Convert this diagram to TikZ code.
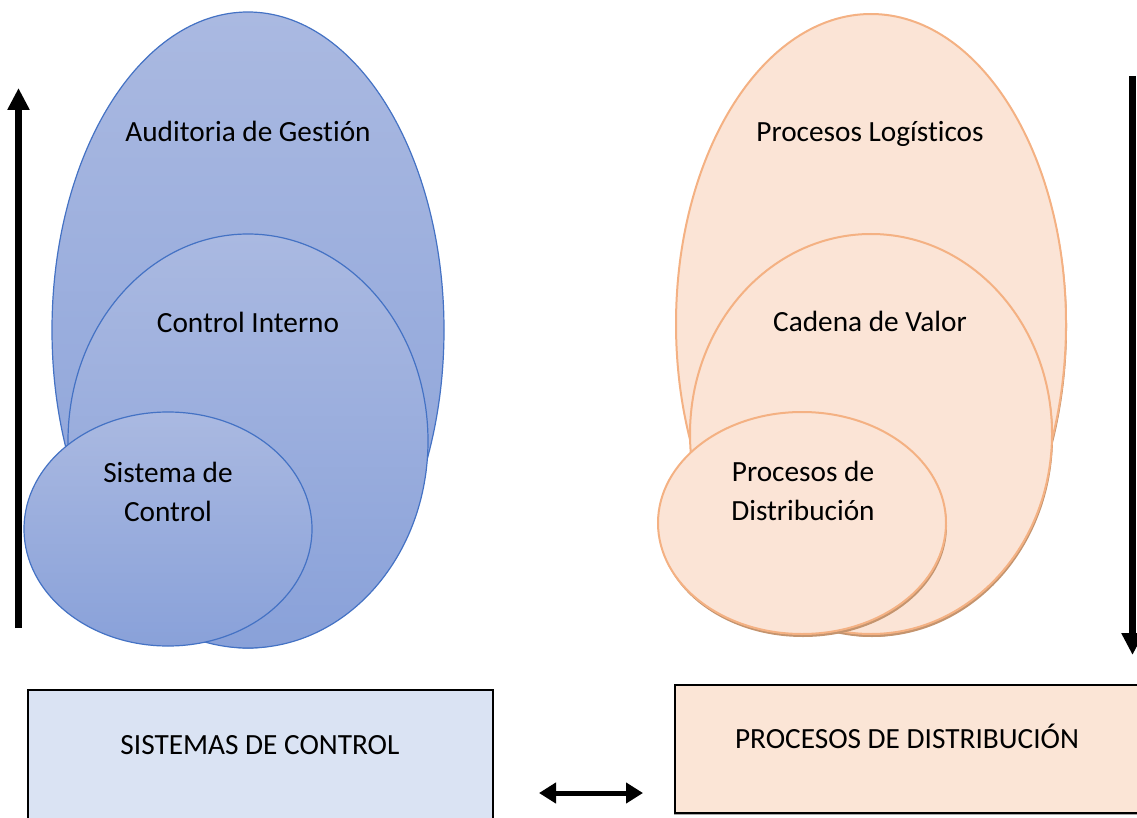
\documentclass[tikz,border=0pt]{standalone}
\usepackage{fontspec}
\setmainfont{Carlito}[Ligatures=NoCommon]
\usetikzlibrary{shapes.geometric,arrows.meta,shadows}
\definecolor{bluetop}{RGB}{170,185,225}
\definecolor{bluebot}{RGB}{137,161,217}
\definecolor{blueline}{RGB}{68,114,196}
\definecolor{peach}{RGB}{251,228,214}
\definecolor{peachline}{RGB}{244,177,131}
\definecolor{peachshadow}{RGB}{196,148,110}
\definecolor{boxblue}{RGB}{218,227,243}
\definecolor{boxpeach}{RGB}{251,229,214}
\begin{document}
\begin{tikzpicture}[x=1pt,y=-1pt,
  every node/.style={font=\fontsize{29.3}{39}\selectfont, text=black},
  blueell/.style={ellipse, draw=blueline, line width=1.2pt, top color=bluetop, bottom color=bluebot, inner sep=0pt},
  peachell/.style={ellipse, draw=peachline, line width=2pt, fill=peach, inner sep=0pt,
    drop shadow={shadow xshift=1pt, shadow yshift=-3pt, fill=peachshadow, opacity=1}},
  labeltext/.style={inner sep=0pt, align=center},
  boxshape/.style={rectangle, draw=black, line width=2pt, inner sep=0pt,
    drop shadow={shadow xshift=-1pt, shadow yshift=-2pt, fill=gray!70, opacity=1}},
  bigarrow/.style={line width=7pt, -{Triangle[length=22pt,width=21pt]}},
  dblarrow/.style={line width=5pt, {Triangle[length=17pt,width=20pt]}-{Triangle[length=17pt,width=20pt]}}
]
\clip (0,0) rectangle (1137,818);
% left ellipses
\node[blueell, minimum width=392pt, minimum height=636pt] (lbig) at (248,330) {};
\node[blueell, minimum width=360pt, minimum height=414pt] (lmid) at (248,441) {};
\node[blueell, minimum width=288pt, minimum height=234pt] (lsmall) at (168,529) {};
\node[labeltext] (lt1) at (248,131) {Auditoria de Gestión};
\node[labeltext] (lt2) at (248,322) {Control Interno};
\node[labeltext] (lt3) at (168,492) {Sistema de\\Control};
% right ellipses
\node[peachell, minimum width=390pt, minimum height=620pt] (rbig) at (871,324) {};
\node[peachell, minimum width=362pt, minimum height=400pt] (rmid) at (871,434) {};
\node[peachell, minimum width=288pt, minimum height=222pt] (rsmall) at (802,523) {};
\node[labeltext] (rt1) at (870,134) {Procesos Logísticos};
\node[labeltext] (rt2) at (870,321) {Cadena de Valor};
\node[labeltext] (rt3) at (803,491) {Procesos de\\Distribución};
% boxes
\node[boxshape, fill=boxblue, minimum width=465pt, minimum height=150pt] (lbox) at (260.5,765) {};
\node[labeltext] (lboxt) at (260,745) {SISTEMAS DE CONTROL};
\node[boxshape, fill=boxpeach, minimum width=470pt, minimum height=128pt] (rbox) at (910,749) {};
\node[labeltext] (rboxt) at (907,736) {PROCESOS DE DISTRIBUCIÓN};
% arrows
\coordinate (lup0) at (18.5,628);
\coordinate (lup1) at (18.5,88);
\draw[bigarrow] (lup0) -- (lup1);
\coordinate (rdn0) at (1132.5,76);
\coordinate (rdn1) at (1132.5,655);
\draw[bigarrow] (rdn0) -- (rdn1);
\coordinate (dl) at (539,793);
\coordinate (dr) at (643,793);
\draw[dblarrow] (dl) -- (dr);
\end{tikzpicture}
\end{document}
